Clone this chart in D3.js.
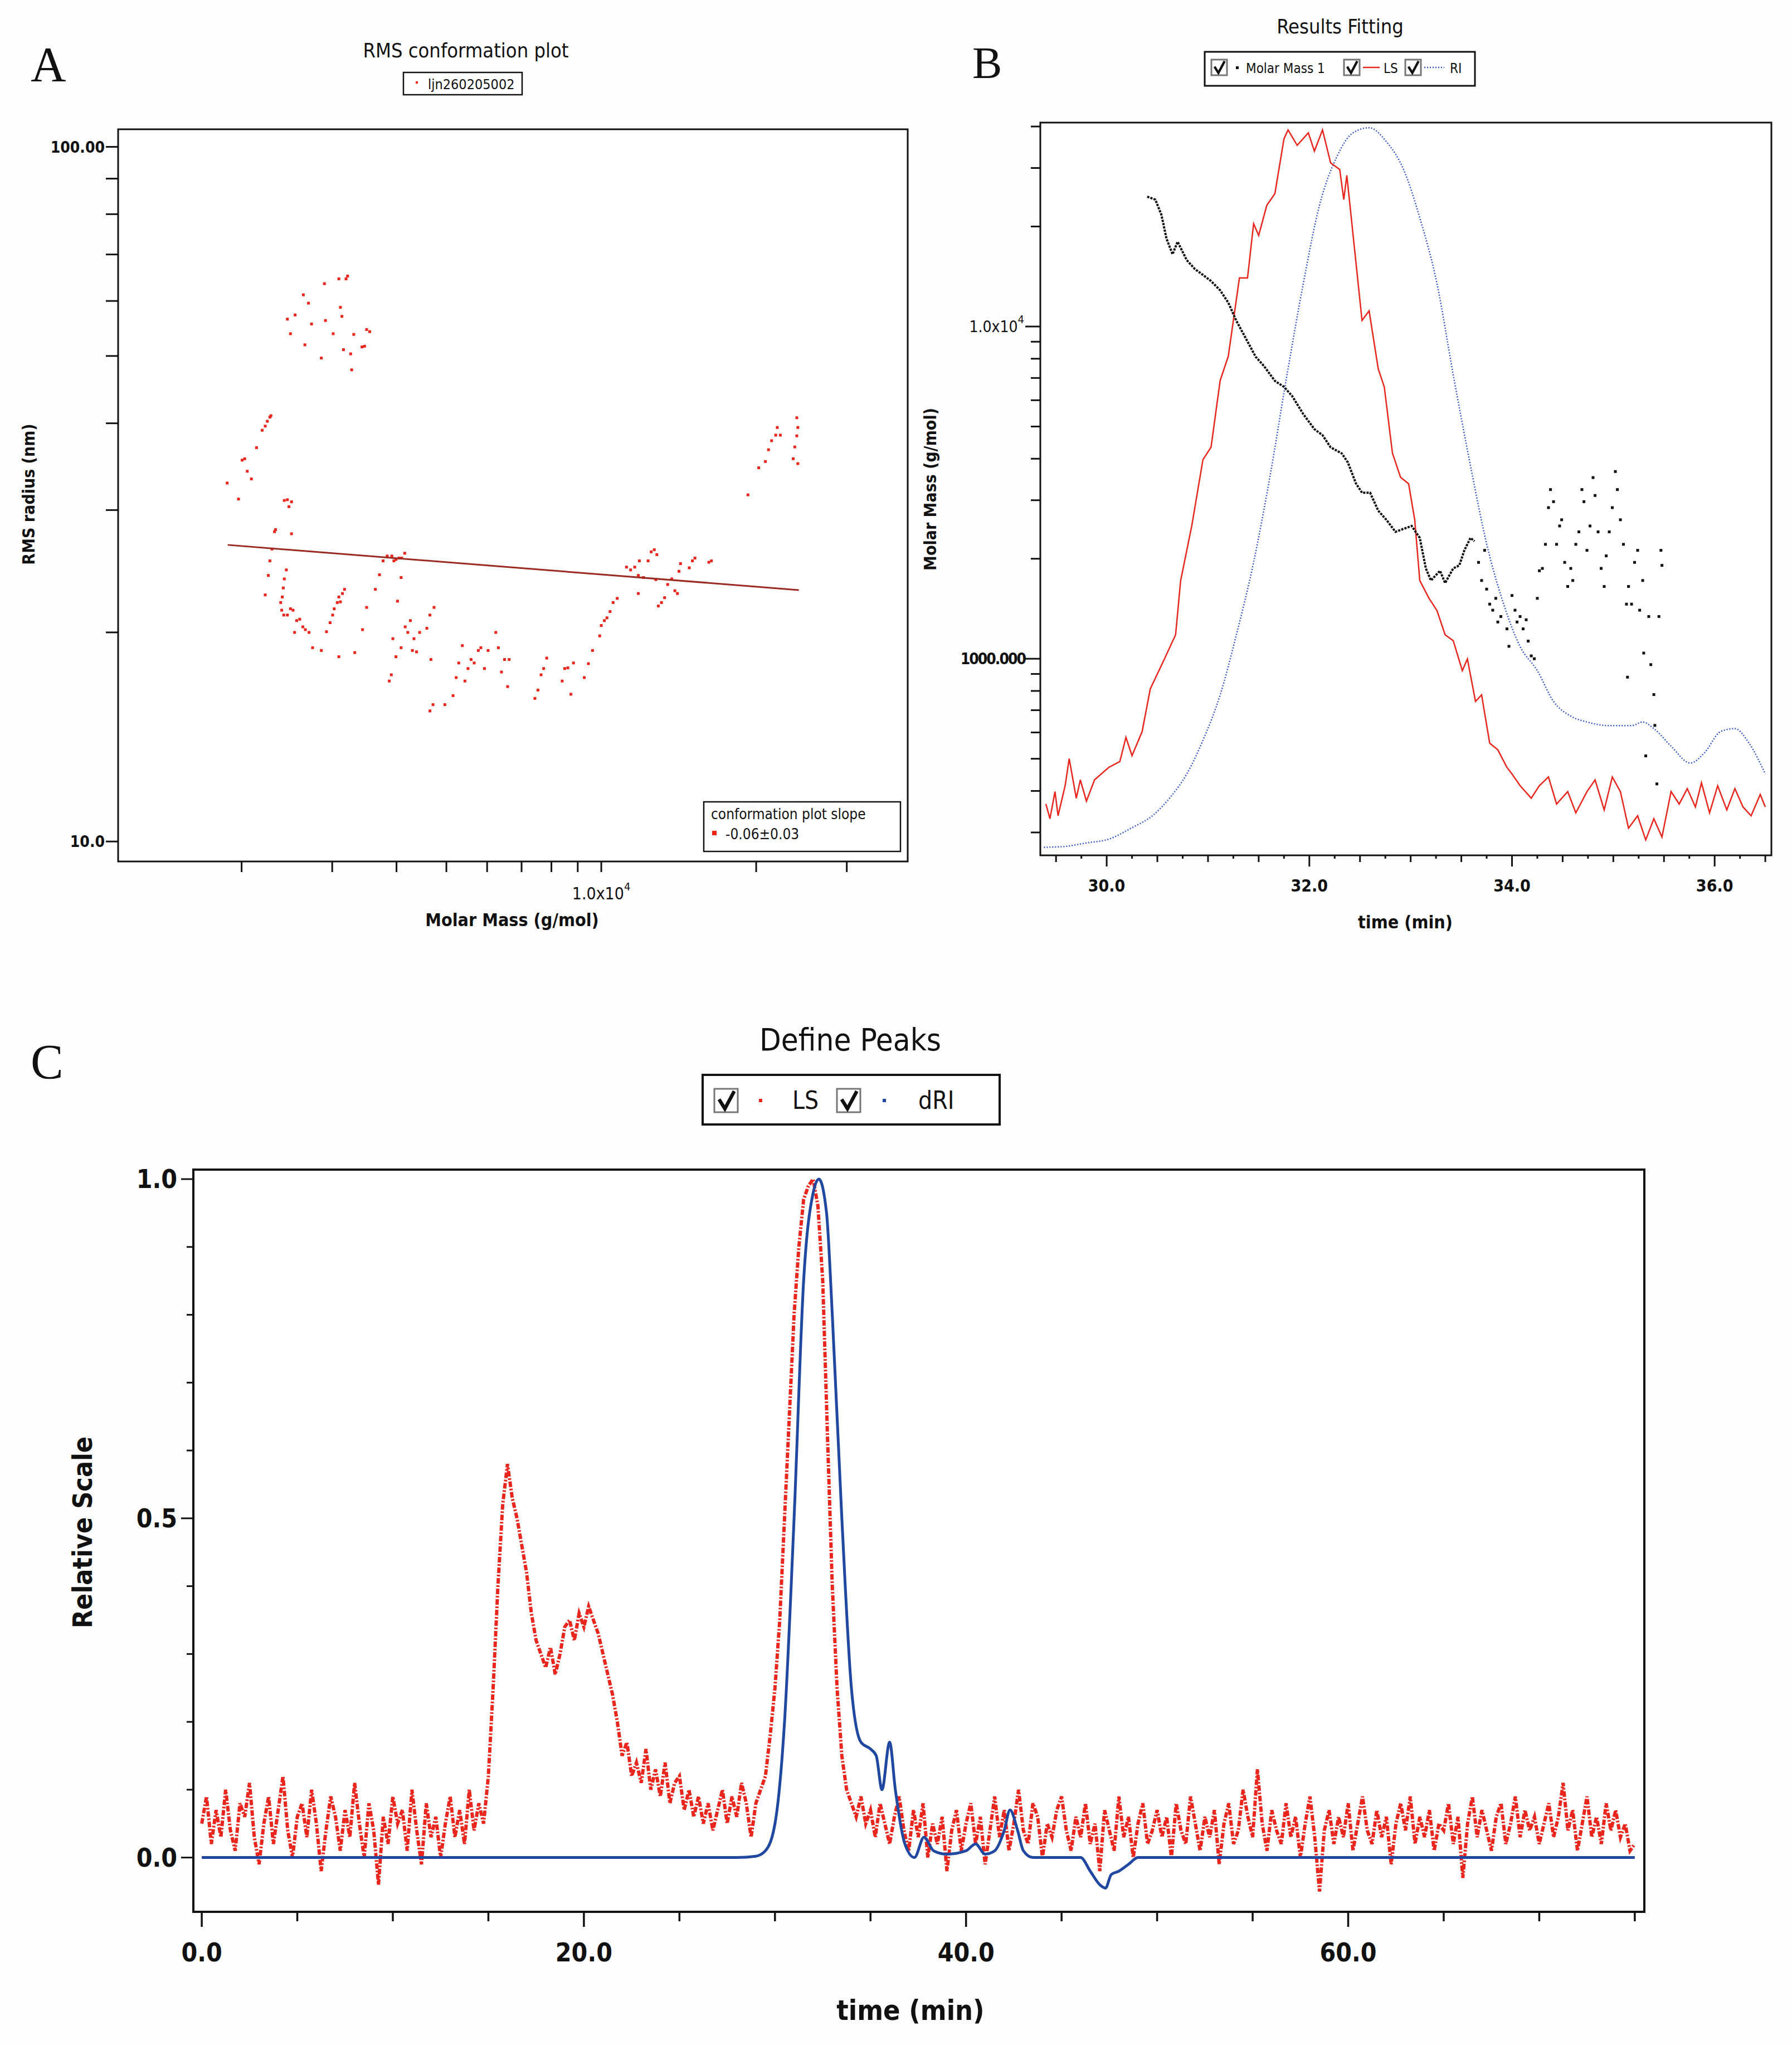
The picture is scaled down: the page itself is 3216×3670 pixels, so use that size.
<!DOCTYPE html>
<html>
<head>
<meta charset="utf-8">
<script src="https://cdn.jsdelivr.net/npm/d3@7"></script>
<style>
  body { margin: 0; background: #fdfdfd; }
  text { font-family: "Liberation Sans Narrow", "DejaVu Sans Condensed", "Open Sans", sans-serif; fill: #111; }
  .letter { font-family: "Liberation Serif", "DejaVu Serif", serif; }
</style>
</head>
<body>
<svg id="chart" width="3216" height="3670"></svg>
<script>
// ---------- Panel A: RMS conformation plot (log10 values) ----------
const confLogM = [3.390,3.396,3.405,3.421,3.424,3.431,3.437,3.456,3.462,3.464,3.479,3.490,3.493,3.496,3.499,3.504,3.507,3.513,3.515,3.519,3.535,3.540,3.544,3.550,
  3.273,3.295,3.302,3.307,3.312,3.320,3.330,3.341,3.347,3.351,3.356,3.358,
  3.347,3.353,3.356,3.360,3.365,3.367,3.384,3.390,3.393,3.398,3.398,3.388,3.384,3.382,3.380,3.377,3.379,3.383,3.390,3.396,3.401,3.404,3.408,3.414,3.420,3.425,3.432,3.439,3.456,3.466,3.473,3.478,3.481,3.487,3.490,3.493,3.497,3.501,3.490,3.521,3.536,3.544,3.561,3.569,3.576,3.584,3.593,3.597,3.601,3.607,3.612,3.618,3.611,3.604,
  3.588,3.592,3.595,3.601,3.611,3.619,3.624,3.629,3.633,3.636,3.641,3.647,3.661,3.667,3.675,3.669,3.673,3.667,3.696,3.712,3.718,3.723,3.730,3.735,3.741,3.747,3.753,3.761,3.766,3.773,3.780,3.795,3.800,3.806,3.812,3.818,3.821,
  3.871,3.877,3.883,3.888,3.894,3.924,3.929,3.935,3.941,3.946,3.967,3.975,3.983,3.997,4.000,4.006,4.011,4.017,4.023,4.031,
  4.049,4.057,4.065,4.072,4.072,4.074,4.082,4.091,4.097,4.103,4.108,4.106,4.111,4.117,4.123,4.129,4.137,4.143,4.148,4.151,4.154,4.171,4.177,4.182,4.209,4.214,
  4.285,4.306,4.319,4.325,4.331,4.339,4.342,4.348,4.373,4.376,4.380,4.382,4.380,4.382];
const confLogR = [1.752,1.731,1.758,1.787,1.715,1.775,1.745,1.696,1.803,1.750,1.731,1.810,1.769,1.756,1.708,1.810,1.814,1.702,1.679,1.730,1.712,1.713,1.737,1.734,
  1.516,1.493,1.549,1.551,1.533,1.522,1.567,1.592,1.598,1.605,1.611,1.613,
  1.355,1.383,1.404,1.421,1.446,1.449,1.491,1.492,1.482,1.489,1.443,1.391,1.378,1.365,1.352,1.344,1.333,1.326,1.326,1.335,1.333,1.301,1.318,1.320,1.309,1.305,1.301,1.279,1.275,1.302,1.315,1.326,1.335,1.344,1.352,1.345,1.357,1.363,1.266,1.272,1.305,1.337,1.363,1.384,1.404,1.411,1.411,1.404,1.406,1.408,1.408,1.415,1.380,1.346,
  1.231,1.240,1.292,1.266,1.279,1.309,1.301,1.318,1.275,1.292,1.273,1.301,1.307,1.326,1.337,1.262,1.197,1.188,1.197,1.210,1.236,1.257,1.282,1.231,1.249,1.262,1.257,1.275,1.279,1.249,1.275,1.301,1.279,1.244,1.262,1.223,1.262,
  1.206,1.218,1.240,1.249,1.264,1.231,1.249,1.250,1.212,1.257,1.236,1.256,1.275,1.296,1.311,1.318,1.322,1.331,1.344,1.350,
  1.395,1.391,1.395,1.383,1.357,1.404,1.380,1.404,1.417,1.420,1.413,1.377,1.339,1.344,1.351,1.370,1.378,1.361,1.357,1.389,1.400,1.394,1.404,1.408,1.402,1.404,
  1.499,1.538,1.547,1.564,1.577,1.585,1.596,1.585,1.551,1.568,1.584,1.596,1.610,1.544];
const fitLogM = [3.274, 4.384];
const fitLogR = [1.427, 1.362];
const confXTicks = [2000,3000,4000,5000,6000,7000,8000,9000,10000,20000,30000];
const confYTicks = [10,20,30,40,50,60,70,80,90,100];

// ---------- Panel B: Results Fitting ----------
const mmMainTime = [30.40,30.48,30.54,30.59,30.65,30.70,30.79,30.87,30.95,31.03,31.12,31.20,31.28,31.39,31.47,31.55,31.66,31.75,31.83,31.94,32.05,32.13,32.21,32.32,32.38,32.46,32.52,32.60,32.68,32.76,32.85,32.93,33.01,33.09,33.15,33.20,33.29,33.34,33.42,33.48,33.53,33.59,33.63];
const mmMainMass = [24600,24100,21700,18400,16500,18000,15850,14900,14300,13700,12850,11800,10400,9010,8110,7620,6860,6580,6180,5450,4910,4710,4330,4150,3900,3370,3160,3160,2790,2620,2410,2460,2510,2310,1870,1720,1840,1690,1870,1910,2120,2310,2260];
const mmScatTime = [33.67,33.70,33.73,33.75,33.78,33.81,33.84,33.86,33.89,33.95,33.97,34.00,34.03,34.05,34.08,34.11,34.14,34.16,34.19,34.22,34.25,34.27,34.30,34.33,34.36,34.38,34.41,34.44,34.47,34.49,34.52,34.55,34.58,34.60,34.63,34.66,34.69,34.71,34.74,34.77,34.80,34.82,34.85,34.88,34.91,34.93,34.96,34.99,35.02,35.04,35.07,35.10,35.13,35.14,35.15,35.18,35.21,35.24,35.26,35.29,35.30,35.32,35.35,35.37,35.40,35.41,35.43,35.45,35.47,35.48];
const mmScatMass = [1950,1720,2120,1620,1460,1400,1520,1290,1340,1230,1090,1550,1400,1290,1340,1230,1310,1130,1020,1000,1520,1840,1870,2210,2850,3230,2970,2210,2510,2620,1950,1650,1870,1720,2210,2410,3230,2970,2120,2510,3510,3100,2410,1870,1650,2040,2410,2850,3660,3230,2620,2210,1460,880,1650,1460,1950,2120,1400,1720,1040,510,1340,960,780,630,420,1340,2120,1910];
const lsTimeB = [29.40,29.44,29.49,29.52,29.59,29.63,29.70,29.74,29.80,29.88,30.02,30.13,30.19,30.25,30.35,30.43,30.57,30.68,30.73,30.84,30.95,31.03,31.12,31.20,31.31,31.39,31.45,31.50,31.58,31.66,31.75,31.79,31.88,31.99,32.05,32.13,32.21,32.30,32.34,32.37,32.42,32.52,32.59,32.68,32.74,32.82,32.90,32.98,33.04,33.09,33.18,33.26,33.34,33.42,33.51,33.56,33.64,33.70,33.78,33.86,33.95,34.00,34.08,34.19,34.27,34.36,34.44,34.55,34.63,34.74,34.82,34.91,34.99,35.07,35.15,35.24,35.32,35.40,35.48,35.57,35.65,35.73,35.81,35.87,35.95,36.03,36.12,36.20,36.28,36.36,36.45,36.50];
const lsValB = [.070,.050,.087,.054,.095,.132,.078,.103,.074,.103,.120,.128,.161,.136,.169,.227,.268,.301,.375,.450,.540,.557,.648,.681,.788,.788,.862,.846,.887,.903,.978,.990,.969,.986,.961,.990,.945,.936,.895,.928,.862,.730,.743,.664,.639,.549,.516,.507,.458,.375,.351,.334,.301,.293,.252,.268,.210,.219,.153,.144,.120,.111,.095,.078,.095,.107,.070,.087,.058,.087,.103,.062,.107,.087,.037,.054,.021,.050,.025,.087,.070,.091,.066,.099,.058,.095,.062,.091,.066,.054,.083,.066];
const riTimeB = [29.38,29.58,29.80,30.02,30.24,30.46,30.62,30.79,30.95,31.12,31.28,31.45,31.61,31.77,31.94,32.10,32.27,32.43,32.59,32.76,32.93,33.09,33.26,33.42,33.59,33.75,33.92,34.08,34.25,34.41,34.58,34.74,34.96,35.18,35.29,35.40,35.57,35.76,35.90,36.06,36.20,36.34,36.50];
const riValB = [.011,.012,.017,.022,.037,.055,.078,.111,.157,.219,.301,.400,.516,.648,.780,.887,.953,.986,.993,.974,.936,.870,.780,.656,.532,.425,.342,.285,.252,.210,.190,.182,.177,.177,.182,.173,.149,.126,.140,.169,.173,.153,.111];
const fitXTicks = [30, 32, 34, 36];
const fitYTicks = [300,400,500,600,700,800,900,1000,2000,3000,4000,5000,6000,7000,8000,9000,10000,20000,30000,40000];

// ---------- Panel C: Define Peaks ----------
// LS sampled every 0.25 min from 0 to 75 (hundredths of relative scale)
const lsPeaks = [
  5,9,2,7,3,10,4,1,8,6,11,3,-1,5,9,2,7,12,4,0,
  6,8,3,10,5,-2,4,9,6,1,7,3,11,5,0,8,4,-4,6,2,
  9,5,7,1,10,4,-1,8,3,6,0,5,9,3,7,2,10,4,8,5,
  12,25,40,52,58,53,50,46,42,36,32,30,28,31,27,30,34,35,32,36,
  34,37,35,33,30,27,24,20,15,17,12,14,11,16,10,13,9,14,8,11,
  12,7,10,6,9,5,8,4,7,10,5,9,6,11,8,3,8,10,12,18,
  25,35,50,65,80,90,97,99,100,96,85,62,40,25,15,10,8,6,9,5,
  7,3,8,5,2,6,9,4,1,7,3,8,0,5,2,6,-2,4,7,1,
  5,8,2,6,-1,4,9,3,7,1,5,10,4,2,8,6,0,5,3,7,
  9,4,1,6,3,8,2,5,-2,7,4,1,9,3,6,0,5,8,2,4,
  7,3,6,0,8,4,2,9,5,1,6,3,7,-1,5,8,2,4,10,6,
  3,13,5,1,7,4,2,8,3,6,0,5,9,3,-5,4,7,2,6,3,
  8,1,5,9,4,2,7,3,6,-1,5,8,4,9,2,6,3,7,1,5,
  4,8,2,6,-3,5,9,3,7,4,1,6,8,2,5,9,3,7,4,6,
  2,5,8,3,6,11,4,7,1,5,9,3,6,2,8,4,7,3,5,1,
  2];
const lsStep = 0.25;
const driTime = [0,28,29,29.5,30,30.5,31,31.5,32,32.3,32.7,33,33.5,34,34.5,35,35.3,35.6,36,36.3,36.8,37.3,37.8,38.3,39,40,40.5,41,41.5,42,42.3,42.7,43,43.5,46,46.5,47,47.3,47.6,48,48.5,49,75];
const driVal = [0,0,0.002,0.01,0.05,0.2,0.5,0.85,0.98,1.0,0.95,0.8,0.5,0.25,0.17,0.16,0.15,0.1,0.17,0.1,0.02,0,0.03,0.01,0.005,0.01,0.02,0.005,0.01,0.04,0.07,0.04,0.01,0,0,-0.02,-0.04,-0.045,-0.025,-0.02,-0.01,0,0];
const peakXTicks = [0,5,10,15,20,25,30,35,40,45,50,55,60,65,70,75];
const peakYTicks = [0,0.1,0.2,0.3,0.4,0.5,0.6,0.7,0.8,0.9,1.0];

const svg = d3.select("#chart");
svg.append("rect").attr("width", 3216).attr("height", 3670).attr("fill", "#fdfdfd");

function frame(x0, y0, x1, y1, sw) {
  svg.append("rect").attr("x", x0).attr("y", y0).attr("width", x1 - x0).attr("height", y1 - y0)
    .attr("fill", "#fff").attr("stroke", "#111").attr("stroke-width", sw);
}
function checkbox(x, y, s) {
  const g = svg.append("g");
  g.append("rect").attr("x", x).attr("y", y).attr("width", s).attr("height", s)
    .attr("fill", "#fff").attr("stroke", "#777").attr("stroke-width", 3);
  g.append("path").attr("d", `M${x + s * 0.2},${y + s * 0.45} L${x + s * 0.45},${y + s * 0.85} L${x + s * 0.85},${y + s * 0.1}`)
    .attr("fill", "none").attr("stroke", "#111").attr("stroke-width", s * 0.15);
}

// ===== Panel A =====
const ax = d3.scaleLog().domain([1151, 39400]).range([212, 1629]);
const ay = d3.scaleLog().domain([9.36, 106]).range([1546, 232]);
svg.append("text").attr("class", "letter").attr("x", 55).attr("y", 145).attr("font-size", 88).text("A");
svg.append("text").attr("x", 836).attr("y", 103).attr("text-anchor", "middle").attr("font-size", 36).text("RMS conformation plot");
frame(724, 130, 937, 170, 2.5);
svg.append("rect").attr("x", 746).attr("y", 146).attr("width", 4).attr("height", 4).attr("fill", "#e21");
svg.append("text").attr("x", 768).attr("y", 160).attr("font-size", 25).text("ljn260205002");
frame(212, 232, 1629, 1546, 3);
svg.append("g").selectAll("line").data(confYTicks).join("line")
  .attr("x1", 190).attr("x2", 212).attr("y1", d => ay(d)).attr("y2", d => ay(d))
  .attr("stroke", "#111").attr("stroke-width", 3);
svg.append("text").attr("x", 188).attr("y", ay(100) + 10).attr("text-anchor", "end").attr("font-size", 28).attr("font-weight", "bold").text("100.00");
svg.append("text").attr("x", 188).attr("y", ay(10) + 10).attr("text-anchor", "end").attr("font-size", 28).attr("font-weight", "bold").text("10.0");
svg.append("g").selectAll("line").data(confXTicks).join("line")
  .attr("x1", d => ax(d)).attr("x2", d => ax(d)).attr("y1", 1546).attr("y2", 1565)
  .attr("stroke", "#111").attr("stroke-width", 3);
const xLab = svg.append("text").attr("x", ax(10000)).attr("y", 1614).attr("text-anchor", "middle").attr("font-size", 30);
xLab.append("tspan").text("1.0x10");
xLab.append("tspan").attr("dy", -16).attr("font-size", 20).text("4");
svg.append("text").attr("x", 919).attr("y", 1662).attr("text-anchor", "middle").attr("font-size", 32).attr("font-weight", "bold").text("Molar Mass (g/mol)");
svg.append("text").attr("transform", "translate(62,887) rotate(-90)").attr("text-anchor", "middle").attr("font-size", 30).attr("font-weight", "bold").text("RMS radius (nm)");
svg.append("g").selectAll("rect").data(confLogM).join("rect")
  .attr("x", d => ax(Math.pow(10, d)) - 2.5).attr("y", (d, i) => ay(Math.pow(10, confLogR[i])) - 2.5)
  .attr("width", 5).attr("height", 5).attr("fill", "#e8261e");
svg.append("line")
  .attr("x1", ax(Math.pow(10, fitLogM[0]))).attr("y1", ay(Math.pow(10, fitLogR[0])))
  .attr("x2", ax(Math.pow(10, fitLogM[1]))).attr("y2", ay(Math.pow(10, fitLogR[1])))
  .attr("stroke", "#9b2a22").attr("stroke-width", 3);
frame(1263, 1439, 1616, 1528, 2.5);
svg.append("text").attr("x", 1276).attr("y", 1470).attr("font-size", 26).text("conformation plot slope");
svg.append("rect").attr("x", 1278).attr("y", 1491).attr("width", 8).attr("height", 8).attr("fill", "#e21");
svg.append("text").attr("x", 1302).attr("y", 1506).attr("font-size", 26).text("-0.06±0.03");

// ===== Panel B =====
const bx = d3.scaleLinear().domain([29.345, 36.56]).range([1867, 3179]);
const by = d3.scaleLog().domain([256, 41100]).range([1535, 220]);
const brel = d3.scaleLinear().domain([0, 1]).range([1535, 220]);
svg.append("text").attr("class", "letter").attr("x", 1745).attr("y", 140).attr("font-size", 80).text("B");
svg.append("text").attr("x", 2405).attr("y", 60).attr("text-anchor", "middle").attr("font-size", 36).text("Results Fitting");
frame(2162, 93, 2647, 154, 3);
checkbox(2174, 107, 28);
svg.append("rect").attr("x", 2218).attr("y", 119).attr("width", 5).attr("height", 5).attr("fill", "#111");
svg.append("text").attr("x", 2236).attr("y", 131).attr("font-size", 24).text("Molar Mass 1");
checkbox(2412, 107, 28);
svg.append("line").attr("x1", 2446).attr("x2", 2476).attr("y1", 121).attr("y2", 121).attr("stroke", "#e8261e").attr("stroke-width", 2.5);
svg.append("text").attr("x", 2483).attr("y", 131).attr("font-size", 24).text("LS");
checkbox(2522, 107, 28);
svg.append("line").attr("x1", 2556).attr("x2", 2592).attr("y1", 121).attr("y2", 121).attr("stroke", "#3050c8").attr("stroke-width", 2.5).attr("stroke-dasharray", "2,3");
svg.append("text").attr("x", 2602).attr("y", 131).attr("font-size", 24).text("RI");
frame(1867, 220, 3179, 1535, 3);
svg.append("g").selectAll("line").data(fitYTicks).join("line")
  .attr("x1", d => (d === 1000 || d === 10000) ? 1840 : 1850).attr("x2", 1867)
  .attr("y1", d => by(d)).attr("y2", d => by(d)).attr("stroke", "#111").attr("stroke-width", 3);
const byl = svg.append("text").attr("x", 1838).attr("y", by(10000) + 10).attr("text-anchor", "end").attr("font-size", 28);
byl.append("tspan").text("1.0x10");
byl.append("tspan").attr("dy", -16).attr("font-size", 20).text("4");
svg.append("text").attr("x", 1840).attr("y", by(1000) + 10).attr("text-anchor", "end").attr("font-size", 28).attr("font-weight", "bold").attr("letter-spacing", -2).text("1000.000");
svg.append("g").selectAll("line").data(d3.range(29.5, 36.51, 0.25)).join("line")
  .attr("x1", d => bx(d)).attr("x2", d => bx(d)).attr("y1", 1535)
  .attr("y2", d => Math.abs(d - Math.round(d / 2) * 2) < 0.01 ? 1555 : (Math.abs(d % 0.5) < 0.01 ? 1547 : 1541))
  .attr("stroke", "#111").attr("stroke-width", 3);
svg.append("g").selectAll("text").data(fitXTicks).join("text")
  .attr("x", d => bx(d)).attr("y", 1600).attr("text-anchor", "middle").attr("font-size", 30).attr("font-weight", "bold")
  .text(d => d.toFixed(1));
svg.append("text").attr("x", 2522).attr("y", 1666).attr("text-anchor", "middle").attr("font-size", 32).attr("font-weight", "bold").text("time (min)");
svg.append("text").attr("transform", "translate(1680,878) rotate(-90)").attr("text-anchor", "middle").attr("font-size", 30).attr("font-weight", "bold").text("Molar Mass (g/mol)");
svg.append("path").datum(riTimeB).attr("fill", "none").attr("stroke", "#3050c8").attr("stroke-width", 2.5).attr("stroke-dasharray", "2,3")
  .attr("d", d3.line().curve(d3.curveMonotoneX).x(d => bx(d)).y((d, i) => brel(riValB[i])));
svg.append("path").datum(lsTimeB).attr("fill", "none").attr("stroke", "#e8261e").attr("stroke-width", 2.5)
  .attr("d", d3.line().x(d => bx(d)).y((d, i) => brel(lsValB[i])));
svg.append("path").datum(mmMainTime).attr("fill", "none").attr("stroke", "#111").attr("stroke-width", 4).attr("stroke-dasharray", "4,2")
  .attr("d", d3.line().x(d => bx(d)).y((d, i) => by(mmMainMass[i])));
svg.append("g").selectAll("rect").data(mmScatTime).join("rect")
  .attr("x", d => bx(d) - 2.5).attr("y", (d, i) => by(mmScatMass[i]) - 2.5)
  .attr("width", 5).attr("height", 5).attr("fill", "#111");

// ===== Panel C =====
const cx = d3.scaleLinear().domain([-0.44, 75.5]).range([347, 2951]);
const cy = d3.scaleLinear().domain([-0.08, 1.014]).range([3431, 2099]);
svg.append("text").attr("class", "letter").attr("x", 55).attr("y", 1935).attr("font-size", 88).text("C");
svg.append("text").attr("x", 1526).attr("y", 1885).attr("text-anchor", "middle").attr("font-size", 56).text("Define Peaks");
frame(1261, 1929, 1794, 2018, 4);
checkbox(1282, 1954, 42);
svg.append("rect").attr("x", 1362).attr("y", 1972).attr("width", 6).attr("height", 6).attr("fill", "#e8261e");
svg.append("text").attr("x", 1422).attr("y", 1990).attr("font-size", 44).text("LS");
checkbox(1502, 1954, 42);
svg.append("rect").attr("x", 1584).attr("y", 1972).attr("width", 6).attr("height", 6).attr("fill", "#2148a0");
svg.append("text").attr("x", 1648).attr("y", 1990).attr("font-size", 44).text("dRI");
frame(347, 2099, 2951, 3431, 4);
svg.append("g").selectAll("line").data(peakYTicks).join("line")
  .attr("x1", d => (Math.abs(d * 2 - Math.round(d * 2)) < 1e-6) ? 325 : 335).attr("x2", 347)
  .attr("y1", d => cy(d)).attr("y2", d => cy(d)).attr("stroke", "#111").attr("stroke-width", 3);
svg.append("g").selectAll("text").data([0, 0.5, 1]).join("text")
  .attr("x", 318).attr("y", d => cy(d) + 16).attr("text-anchor", "end").attr("font-size", 46).attr("font-weight", "bold")
  .attr("font-family", "'Liberation Serif', serif").text(d => d.toFixed(1));
svg.append("g").selectAll("line").data(peakXTicks).join("line")
  .attr("x1", d => cx(d)).attr("x2", d => cx(d)).attr("y1", 3431).attr("y2", d => d % 20 === 0 ? 3458 : 3448)
  .attr("stroke", "#111").attr("stroke-width", 3.5);
svg.append("g").selectAll("text").data([0, 20, 40, 60]).join("text")
  .attr("x", d => cx(d)).attr("y", 3520).attr("text-anchor", "middle").attr("font-size", 46).attr("font-weight", "bold")
  .attr("font-family", "'Liberation Serif', serif").text(d => d.toFixed(1));
svg.append("text").attr("x", 1634).attr("y", 3625).attr("text-anchor", "middle").attr("font-size", 50).attr("font-weight", "bold").text("time (min)");
svg.append("text").attr("transform", "translate(165,2750) rotate(-90)").attr("text-anchor", "middle").attr("font-size", 48).attr("font-weight", "bold").text("Relative Scale");
svg.append("path").datum(lsPeaks).attr("fill", "none").attr("stroke", "#e8261e").attr("stroke-width", 6).attr("stroke-dasharray", "10,3,3,3")
  .attr("d", d3.line().x((d, i) => cx(i * lsStep)).y(d => cy(d / 100)));
svg.append("path").datum(driTime).attr("fill", "none").attr("stroke", "#2148a0").attr("stroke-width", 5)
  .attr("d", d3.line().curve(d3.curveMonotoneX).x(d => cx(d)).y((d, i) => cy(driVal[i])));
</script>
</body>
</html>
